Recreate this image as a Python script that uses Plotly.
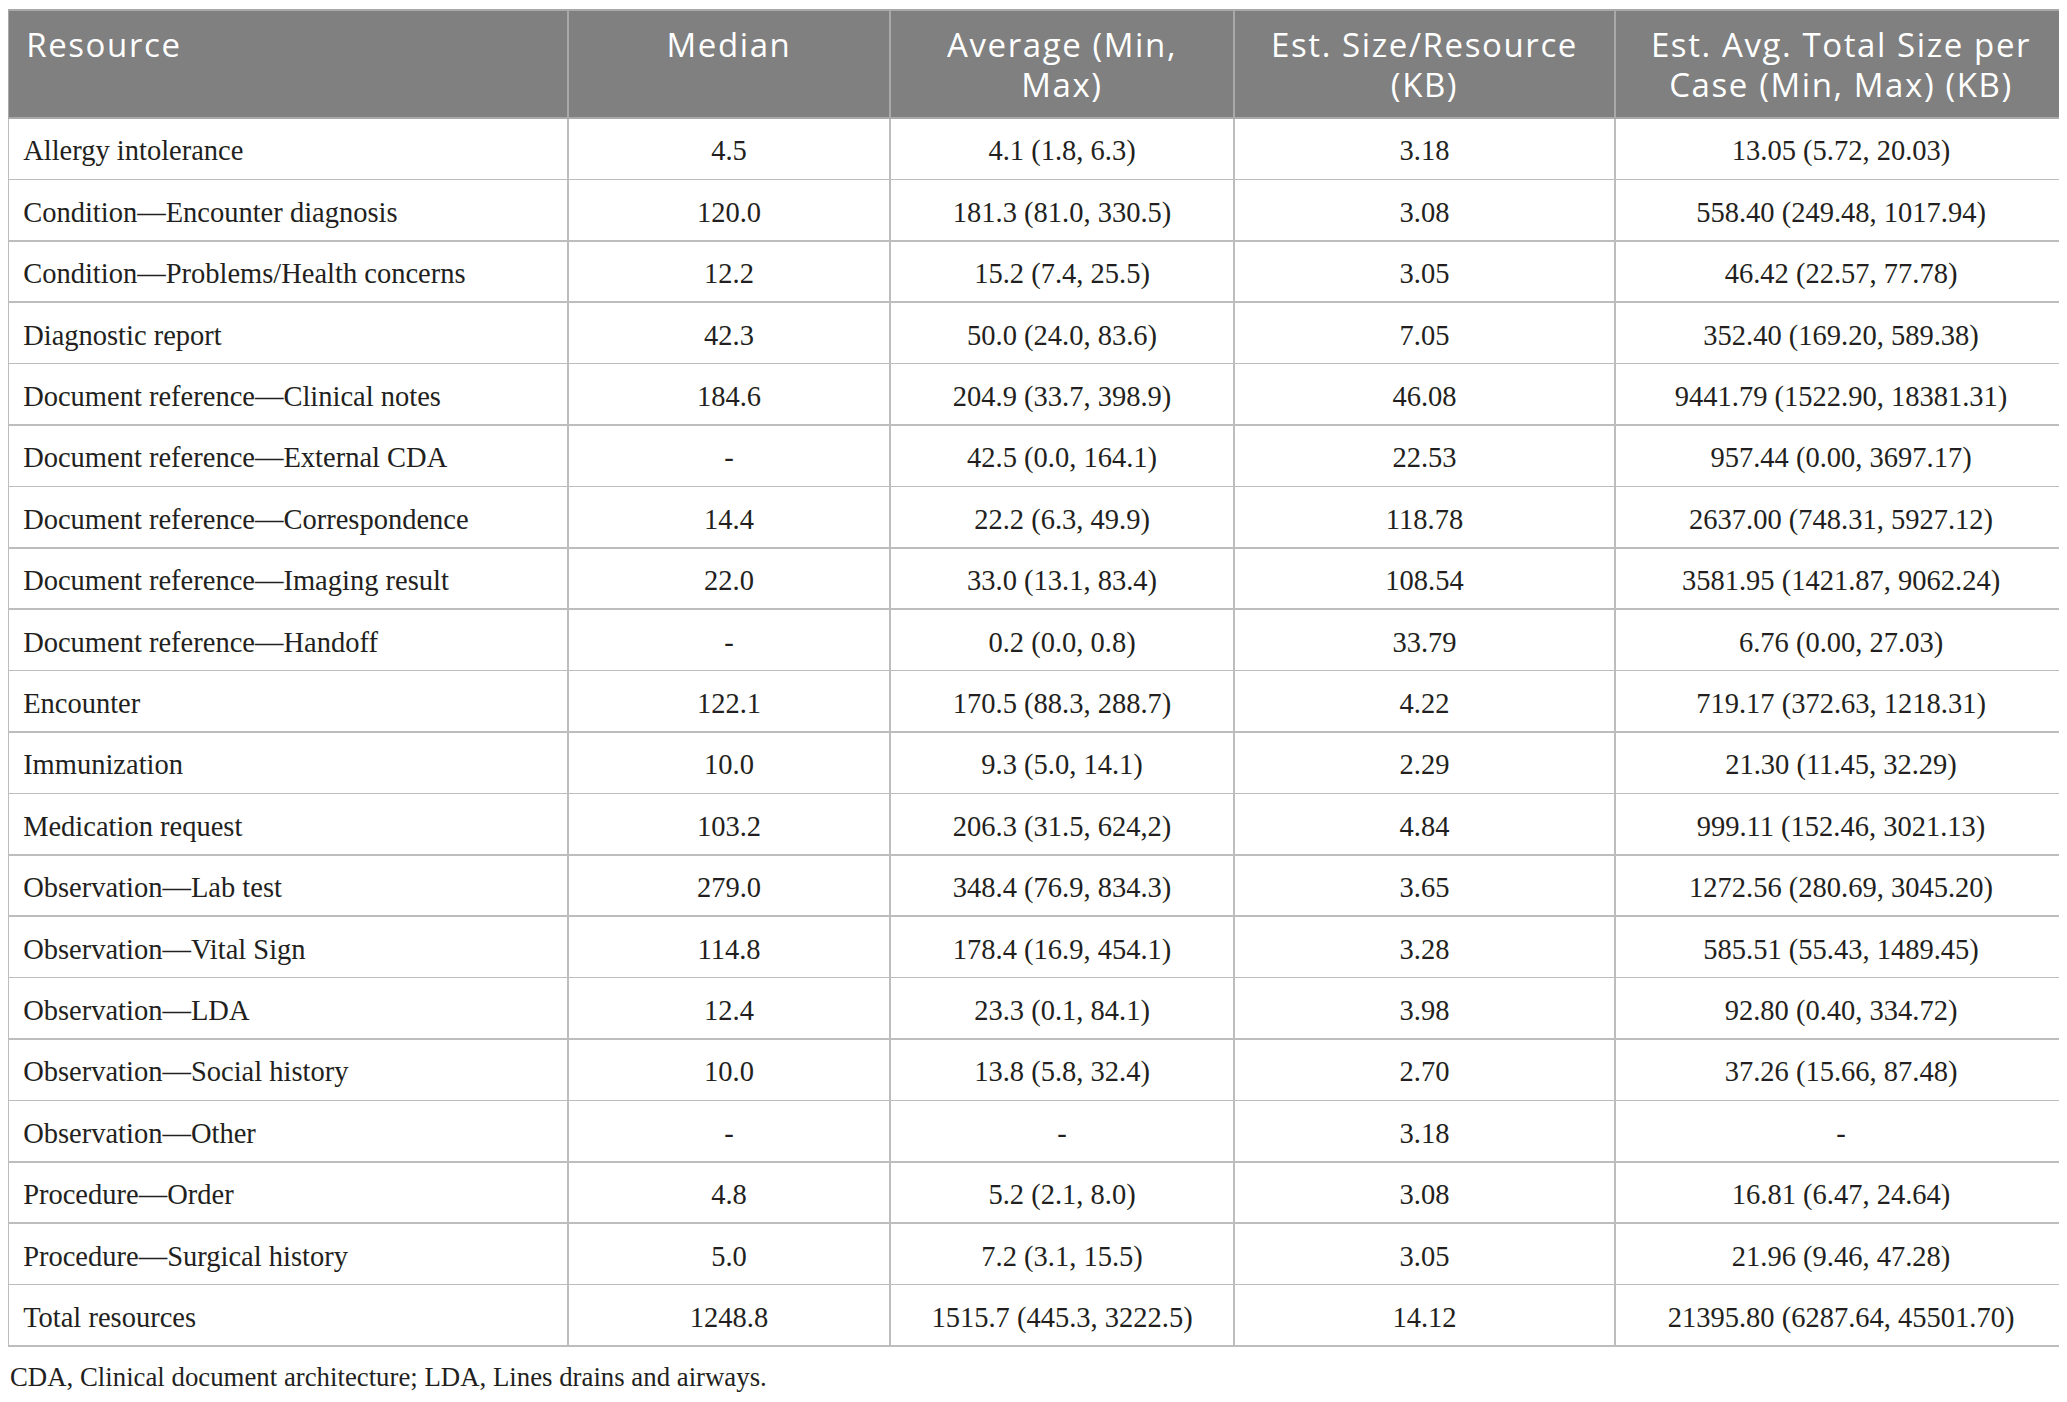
import plotly.graph_objects as go

# Table contents
headers = ["Resource", "Median", "Average (Min,<br>Max)", "Est. Size/Resource<br>(KB)",
           "Est. Avg. Total Size per<br>Case (Min, Max) (KB)"]

resources = [
    "Allergy intolerance",
    "Condition\u2014Encounter diagnosis",
    "Condition\u2014Problems/Health concerns",
    "Diagnostic report",
    "Document reference\u2014Clinical notes",
    "Document reference\u2014External CDA",
    "Document reference\u2014Correspondence",
    "Document reference\u2014Imaging result",
    "Document reference\u2014Handoff",
    "Encounter",
    "Immunization",
    "Medication request",
    "Observation\u2014Lab test",
    "Observation\u2014Vital Sign",
    "Observation\u2014LDA",
    "Observation\u2014Social history",
    "Observation\u2014Other",
    "Procedure\u2014Order",
    "Procedure\u2014Surgical history",
    "Total resources",
]

median = ["4.5", "120.0", "12.2", "42.3", "184.6", "-", "14.4", "22.0", "-", "122.1",
          "10.0", "103.2", "279.0", "114.8", "12.4", "10.0", "-", "4.8", "5.0", "1248.8"]

average = ["4.1 (1.8, 6.3)", "181.3 (81.0, 330.5)", "15.2 (7.4, 25.5)", "50.0 (24.0, 83.6)",
           "204.9 (33.7, 398.9)", "42.5 (0.0, 164.1)", "22.2 (6.3, 49.9)", "33.0 (13.1, 83.4)",
           "0.2 (0.0, 0.8)", "170.5 (88.3, 288.7)", "9.3 (5.0, 14.1)", "206.3 (31.5, 624,2)",
           "348.4 (76.9, 834.3)", "178.4 (16.9, 454.1)", "23.3 (0.1, 84.1)", "13.8 (5.8, 32.4)",
           "-", "5.2 (2.1, 8.0)", "7.2 (3.1, 15.5)", "1515.7 (445.3, 3222.5)"]

size_per_resource = ["3.18", "3.08", "3.05", "7.05", "46.08", "22.53", "118.78", "108.54",
                     "33.79", "4.22", "2.29", "4.84", "3.65", "3.28", "3.98", "2.70", "3.18",
                     "3.08", "3.05", "14.12"]

total_size = ["13.05 (5.72, 20.03)", "558.40 (249.48, 1017.94)", "46.42 (22.57, 77.78)",
              "352.40 (169.20, 589.38)", "9441.79 (1522.90, 18381.31)", "957.44 (0.00, 3697.17)",
              "2637.00 (748.31, 5927.12)", "3581.95 (1421.87, 9062.24)", "6.76 (0.00, 27.03)",
              "719.17 (372.63, 1218.31)", "21.30 (11.45, 32.29)", "999.11 (152.46, 3021.13)",
              "1272.56 (280.69, 3045.20)", "585.51 (55.43, 1489.45)", "92.80 (0.40, 334.72)",
              "37.26 (15.66, 87.48)", "-", "16.81 (6.47, 24.64)", "21.96 (9.46, 47.28)",
              "21395.80 (6287.64, 45501.70)"]

footnote = "CDA, Clinical document architecture; LDA, Lines drains and airways."

# page body has an 8px margin, so the figure is sized to fill the rest of the window
W, H = 2059, 1394
top = 2            # table top, px from figure top
head_h, row_h = 108, 61.4
head_drop, body_drop = 4, 13   # plotly tables top-align text; push it down a bit
line2 = 39.5       # gap between the two header lines

widths = [560, 322, 344, 381, 452]
aligns = ["left", "center", "center", "center", "center"]
n = len(resources)
clear = "rgba(0,0,0,0)"
head_font = dict(family="Open Sans", size=33, color="white")


def spaced(t):
    # the trailing break keeps plotly from re-wrapping the styled text
    return '<span style="letter-spacing:1.6px">' + t + "</span><br>" if t else ""


# split headers so that each line is centred on its own
parts = [(h.split("<br>") + [""])[:2] for h in headers]
head1 = [spaced(p[0]) for p in parts]
head1[0] = spaced("\u00a0" + parts[0][0])
head2 = [spaced(p[1]) for p in parts]

cols = [["\u00a0" + r for r in resources], median, average, size_per_resource, total_size]
blank = [[""] * n for _ in cols]


def dom(px):
    return dict(x=[0, 1], y=[0, 1 - px / H])


# grid: fills and rules only
fig = go.Figure(go.Table(
    domain=dom(top),
    columnwidth=widths,
    header=dict(values=[""] * 5, fill_color="#7f807f",
                line=dict(color="#a9a9a9", width=1.5), height=head_h),
    cells=dict(values=blank, fill_color="white",
               line=dict(color="#bdbdbd", width=1.5), height=row_h),
))

# text layer: first header line and the body, shifted down so text sits mid-row
fig.add_trace(go.Table(
    domain=dom(top + head_drop),
    columnwidth=widths,
    header=dict(values=head1, fill_color=clear, line=dict(color=clear, width=0),
                font=head_font, align=aligns, height=head_h + body_drop - head_drop),
    cells=dict(values=cols, fill_color=clear, line=dict(color=clear, width=0),
               font=dict(family="Liberation Serif", size=28.5, color="#231f20"),
               align=aligns, height=row_h),
))

# second header line
fig.add_trace(go.Table(
    domain=dom(top + head_drop + line2),
    columnwidth=widths,
    header=dict(values=head2, fill_color=clear, line=dict(color=clear, width=0),
                font=head_font, align=aligns, height=50),
    cells=dict(values=[[""] for _ in cols], fill_color=clear,
               line=dict(color=clear, width=0), height=1),
))

fig.add_annotation(text=footnote, xref="paper", yref="paper", x=0, y=1 - 1369 / H,
                   xanchor="left", yanchor="middle", showarrow=False,
                   font=dict(family="Liberation Serif", size=26.8, color="#231f20"))

fig.update_layout(width=W, height=H, margin=dict(l=0, r=0, t=0, b=0),
                  paper_bgcolor="white", plot_bgcolor="white")

fig.write_html("out.html")
